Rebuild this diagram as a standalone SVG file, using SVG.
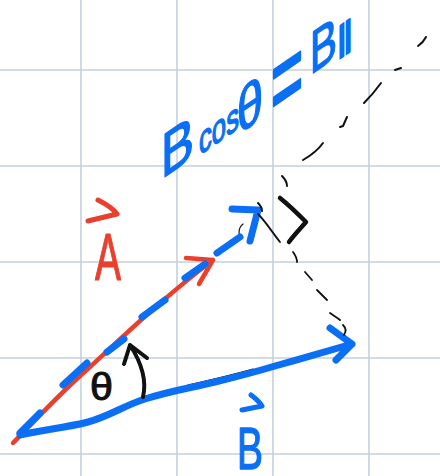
<svg xmlns="http://www.w3.org/2000/svg" width="440" height="476" viewBox="0 0 440 476">
<style>
.grid{stroke:#c5d0e0;stroke-width:1.6;fill:none}
.blue{stroke:#0b6ff5;fill:none;stroke-linecap:round;stroke-linejoin:round}
.red{stroke:#e8402d;fill:none;stroke-linecap:round;stroke-linejoin:round}
.ink{stroke:#111;fill:none;stroke-linecap:round;stroke-linejoin:round}
.bt{fill:#0b6ff5;stroke:#0b6ff5;stroke-width:1.5;stroke-linejoin:round;font-family:"Liberation Sans","DejaVu Sans",sans-serif}
.rt{fill:#e8402d;stroke:#e8402d;stroke-width:1.2;stroke-linejoin:round;font-family:"Liberation Sans","DejaVu Sans",sans-serif}
.kt{fill:#111;stroke:#111;stroke-width:1;font-family:"Liberation Sans","DejaVu Sans",sans-serif}
</style>
<rect width="440" height="476" fill="#fff"/>
<g id="grid" class="grid">
<path d="M81,0V476M177,0V476M273,0V476M369,0V476"/>
<path d="M0,70H440M0,166H440M0,262H440M0,358H440M0,454H440"/>
</g>
<g id="connectors">
<path id="marks" class="ink" stroke-width="1.2" d="M243,224 C239,227 238,232 240,236 M188,385 C215,379 235,374 253,369"/>
<path id="vecA" class="red" stroke-width="4.5" d="M13,443 C40,415 60,394 80,376 C120,340 160,300 213,260 M186,258 L213,260 L199,284"/>
<path id="vecA-blue" class="blue" stroke-width="7" d="M20,433 L40,413 M63,385 L87,363 M107,352 L124,339 M142,317 L165,300 M185,278 L205,264 M217,253 L240,237 M232,209 L258,210 L250,241"/>
<path id="vecB" class="blue" stroke-width="7" d="M20,435 C40,430 65,428 88,422 C110,416 125,405 145,399 C170,391 190,388 215,382 C240,376 255,372 275,366 C300,359 320,353 352,344 M330,328 L352,344 L336,360"/>
<path id="perp" class="ink" stroke-width="1.8" d="M258,214 C266,222 272,232 280,242 M293,252 C296,256 297,259 297,262 M305,272 L312,280 M317,290 L327,300 M330,313 C334,316 338,318 340,320 M343,325 C346,328 346,332 344,335"/>
<path id="proj" class="ink" stroke-width="2" d="M258,203 C260,205 262,208 262,211 M282,176 C285,179 287,182 287,186 M303,160 C310,156 318,150 323,143 M340,127 L343,126 L347,117 M364,103 C370,97 376,90 381,83 M395,70 L401,68 M418,46 C421,44 424,41 426,37"/>
<path id="right-angle" class="ink" stroke-width="4.5" d="M280,198 C290,206 298,214 306,222 C300,229 294,235 289,242"/>
<path id="theta-arrow" class="ink" stroke-width="4" d="M143,397 C147,380 141,362 130,345 M124,364 L130,345 L147,358"/>
</g>
<g id="label-A">
<path class="red" stroke-width="5" d="M98,200 Q112,207 117,214 L88,221"/>
<text class="rt" x="95" y="280" font-size="66" textLength="26" lengthAdjust="spacingAndGlyphs">A</text>
</g>
<g id="label-B">
<path class="blue" stroke-width="5" d="M251,395 Q259,401 262,406 L242,410"/>
<text class="bt" x="237" y="469" font-size="60" textLength="26" lengthAdjust="spacingAndGlyphs">B</text>
</g>
<g id="label-theta">
<text class="kt" x="90" y="400" font-size="38" textLength="23" lengthAdjust="spacingAndGlyphs">θ</text>
</g>
<g id="label-bcos" transform="translate(175,170) skewY(-34.5)">
<text class="bt" x="-14" y="0" font-size="62" textLength="33" lengthAdjust="spacingAndGlyphs">B</text>
<text class="bt" x="24" y="2" font-size="40" textLength="40" lengthAdjust="spacingAndGlyphs">cos</text>
<text class="bt" x="62" y="8" font-size="62" textLength="26" lengthAdjust="spacingAndGlyphs">θ</text>
<text class="bt" stroke-width="0" transform="translate(96,22) scale(1,2)" font-size="55">=</text>
<text class="bt" x="135" y="-2" font-size="60" textLength="27" lengthAdjust="spacingAndGlyphs">B</text>
<text class="bt" x="160" y="-5" font-size="34" font-family="DejaVu Sans, sans-serif" textLength="20" lengthAdjust="spacingAndGlyphs">∥</text>
</g>
</svg>
